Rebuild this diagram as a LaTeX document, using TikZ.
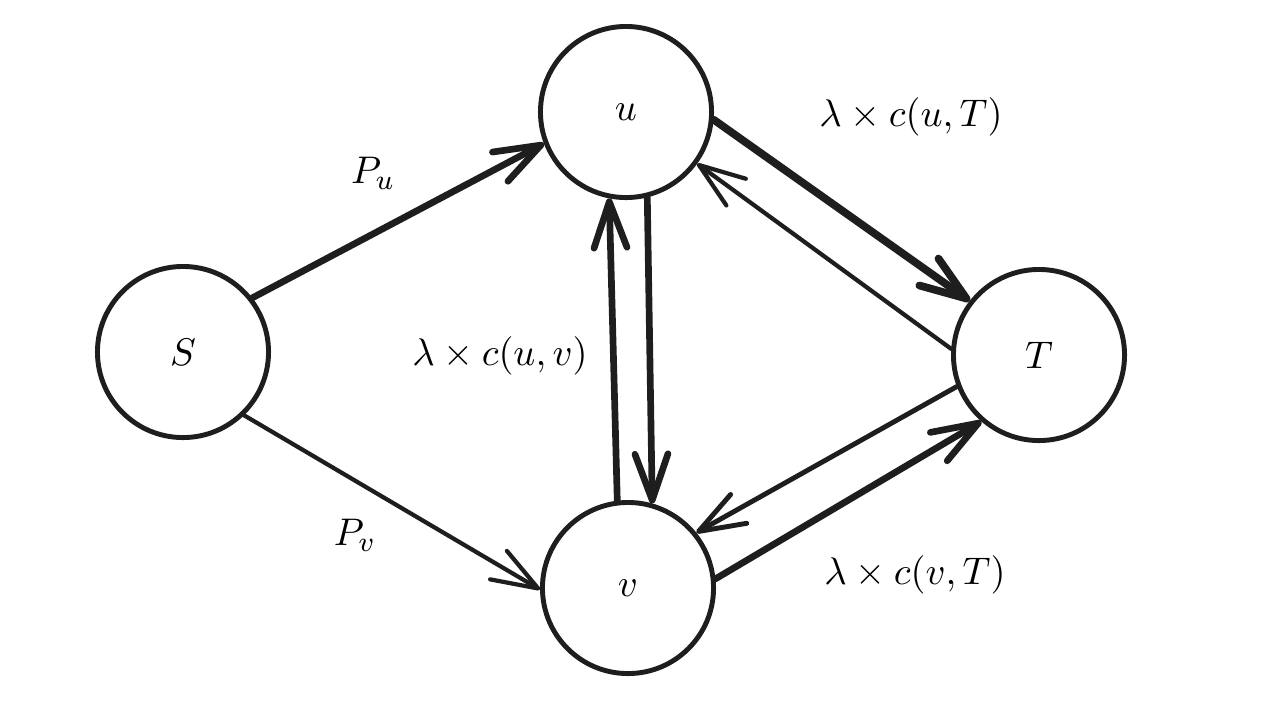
\documentclass[tikz,border=0pt]{standalone}
\usetikzlibrary{arrows.meta}
\definecolor{ink}{RGB}{30,30,30}
\begin{document}
\begin{tikzpicture}[x=0.01cm,y=-0.01cm,font=\fontsize{11}{13}\selectfont,
    vertex/.style={circle,draw=ink,line width=1.4pt,minimum size=1.71cm,inner sep=0pt},
    flow/.style={draw=ink,line width=1.2pt,line cap=round,
      -{Straight Barb[length=4.6mm,width=3.3mm,round]}},
    heavy/.style={flow,line width=1.9pt}]
  \useasboundingbox (0,0) rectangle (1272,726);
  % vertices
  \node[vertex] (S) at (183,352) {$S$};
  \node[vertex] (u) at (626,112) {$u$};
  \node[vertex] (v) at (628,588) {$v$};
  \node[vertex] (T) at (1039,355) {$T$};
  % capacities
  \node (Pu) at (373,173) {$P_u$};
  \node (Pv) at (355,535) {$P_v$};
  \node (cuv) at (500,356) {$\lambda\times c(u,v)$};
  \node (cuT) at (911,117) {$\lambda\times c(u,T)$};
  \node (cvT) at (915,575) {$\lambda\times c(v,T)$};
  % source edges
  \draw[heavy] (S.38) -- (u.201);
  \draw[flow] (S.-46) -- (v.181);
  % between u and v
  \draw[heavy] (u.284) -- (v.74);
  \draw[heavy] (v.97) -- (u.259);
  % to and from the sink
  \draw[heavy,line width=2.2pt] (u.355) -- (T.142);
  \draw[flow] (T.176) -- (u.324);
  \draw[flow,line width=1.4pt] (T.201) -- (v.39);
  \draw[heavy] (v.6) -- (T.229);
\end{tikzpicture}
\end{document}
